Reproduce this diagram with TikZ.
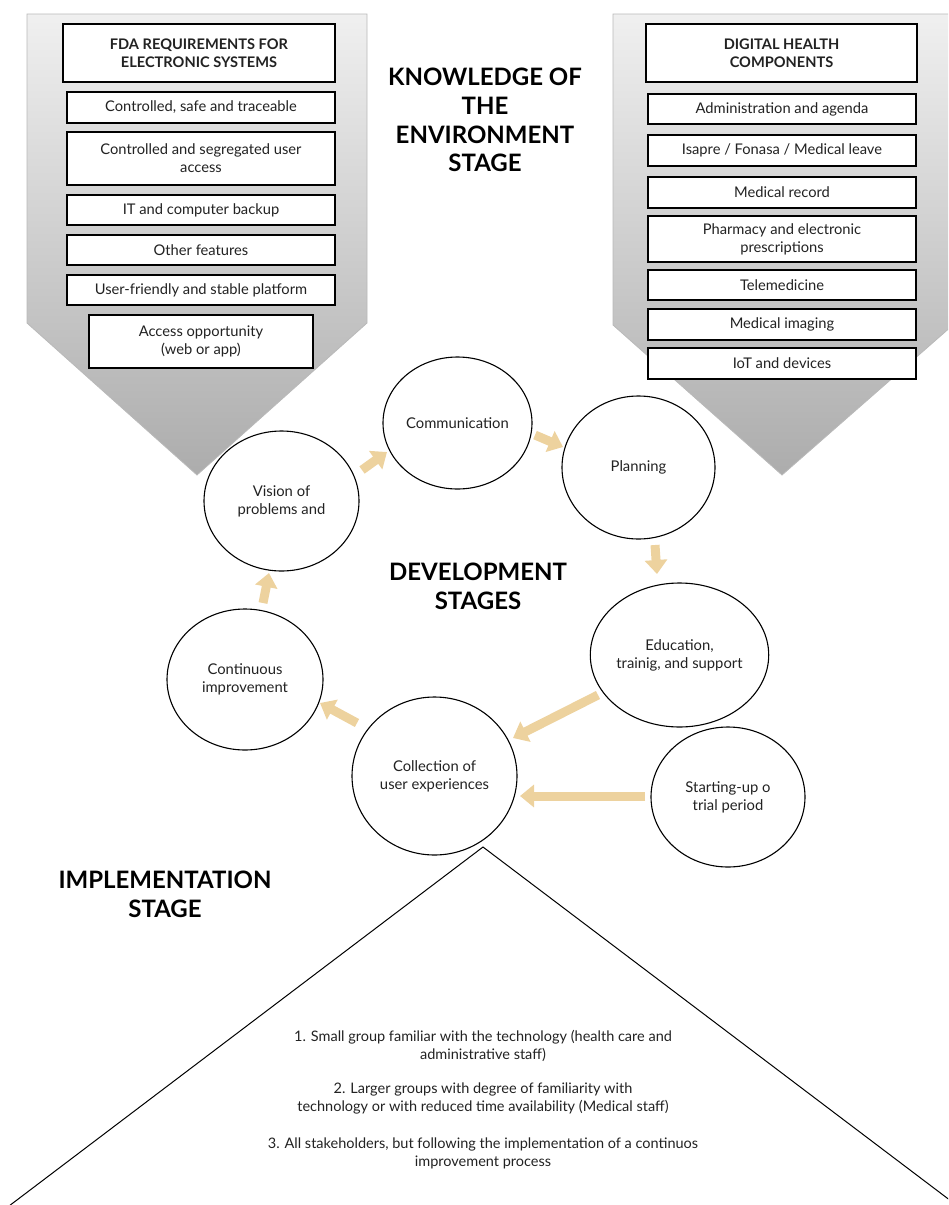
\documentclass[tikz,border=0pt]{standalone}
\usepackage{fontspec}
\setmainfont{Lato}
\usetikzlibrary{arrows.meta,shapes.geometric}
\definecolor{tan}{HTML}{EDD29E}
\definecolor{txt}{HTML}{222222}
\begin{document}
\begin{tikzpicture}[x=1pt,y=-1pt,
  box/.style={draw=black, line width=1.1pt, fill=white, align=center, inner sep=0pt,
    font=\fontsize{14.7}{18}\selectfont, text=txt},
  hbox/.style={box, font=\fontsize{14.6}{18}\selectfont\bfseries},
  lbox/.style={box, minimum width=268pt},
  circ/.style={draw=black, line width=1.1pt, ellipse, inner sep=0pt, align=center,
    font=\fontsize{14.8}{18}\selectfont, text=txt},
  big/.style={align=center, font=\fontsize{24}{28.7}\selectfont\bfseries, text=black},
  small/.style={align=center, font=\fontsize{14.5}{18}\selectfont, text=txt},
  pent/.style={draw=gray!55, line width=0.8pt, top color=gray!12, bottom color=gray!65},
  blockarr/.style={draw=tan, line width=9pt, -{Triangle[width=22pt,length=14pt]}},
  tri/.style={draw=black, line width=1pt}
]
\useasboundingbox (0,0) rectangle (948,1205);
\begin{scope}
\clip (0,0) rectangle (948,1205);
% pentagons
\path[pent] (27,14) -- (367,14) -- (367,323) -- (197,475) -- (27,323) -- cycle;
\path[pent] (613,14) -- (953,14) -- (953,325) -- (782,475) -- (613,325) -- cycle;

% left boxes
\node[hbox, minimum width=272pt, minimum height=58pt] (fda) at (199,53) {FDA REQUIREMENTS FOR\\ELECTRONIC SYSTEMS};
\node[lbox, minimum height=31pt] (l1) at (201,107.5) {Controlled, safe and traceable};
\node[lbox, minimum height=53pt] (l2) at (201,158.5) {Controlled and segregated user\\access};
\node[lbox, minimum height=30pt] (l3) at (201,210) {IT and computer backup};
\node[lbox, minimum height=30pt] (l4) at (201,250) {Other features};
\node[lbox, minimum height=30pt] (l5) at (201,290) {User-friendly and stable platform};
\node[box, minimum width=224pt, minimum height=53pt] (l6) at (201,341.5) {Access opportunity\\(web or app)};

% right boxes
\node[hbox, minimum width=271pt, minimum height=58pt] (dhc) at (781.5,53) {DIGITAL HEALTH\\COMPONENTS};
\node[lbox, minimum height=30pt] (r1) at (782,109) {Administration and agenda};
\node[lbox, minimum height=31pt] (r2) at (782,150.5) {Isapre / Fonasa / Medical leave};
\node[lbox, minimum height=31pt] (r3) at (782,192.5) {Medical record};
\node[lbox, minimum height=46pt] (r4) at (782,239) {Pharmacy and electronic\\prescriptions};
\node[lbox, minimum height=30pt] (r5) at (782,285) {Telemedicine};
\node[lbox, minimum height=31pt] (r6) at (782,324.5) {Medical imaging};
\node[lbox, minimum height=31pt] (r7) at (782,363.5) {IoT and devices};

% titles
\node[big] (know) at (485,120) {KNOWLEDGE OF\\THE\\ENVIRONMENT\\STAGE};
\node[big] (dev) at (478,586.5) {DEVELOPMENT\\STAGES};
\node[big] (impl) at (165,894.5) {IMPLEMENTATION\\STAGE};

% circles
\node[circ, minimum width=149pt, minimum height=132pt] (com) at (457.5,423) {Communication};
\node[circ, minimum width=153pt, minimum height=143pt] (plan) at (638.5,467.5) {Planning};
\node[circ, minimum width=155pt, minimum height=140pt] (vis) at (281.5,501) {Vision of\\problems and};
\node[circ, minimum width=169pt, minimum height=144pt] (edu) at (679.5,655) {Education,\\trainig, and support};
\node[circ, minimum width=156pt, minimum height=141pt] (cont) at (245,679.5) {Continuous\\improvement};
\node[circ, minimum width=165pt, minimum height=158pt] (col) at (434.5,776) {Collection of\\user experiences};
\node[circ, minimum width=154pt, minimum height=140pt] (start) at (728,797) {Starting-up o\\trial period};

% arrow end points
\coordinate (a1s) at (263,603);   \coordinate (a1e) at (269,573);
\coordinate (a2s) at (362,470);   \coordinate (a2e) at (387,452);
\coordinate (a3s) at (535,435);   \coordinate (a3e) at (563,447);
\coordinate (a4s) at (655,545);   \coordinate (a4e) at (657,574);
\coordinate (a5s) at (598,695);   \coordinate (a5e) at (513,738);
\coordinate (a6s) at (645,796);   \coordinate (a6e) at (520,796);
\coordinate (a7s) at (357,723);   \coordinate (a7e) at (320,703);
\draw[blockarr] (a1s) -- (a1e);
\draw[blockarr] (a2s) -- (a2e);
\draw[blockarr] (a3s) -- (a3e);
\draw[blockarr] (a4s) -- (a4e);
\draw[blockarr] (a5s) -- (a5e);
\draw[blockarr] (a6s) -- (a6e);
\draw[blockarr] (a7s) -- (a7e);

% implementation triangle
\coordinate (apex) at (483,847);
\coordinate (tl) at (9,1206);
\coordinate (tr) at (951,1201);
\draw[tri] (tl) -- (apex) -- (tr);

\node[small] (i1) at (483,1046) {1. Small group familiar with the technology (health care and\\administrative staff)};
\node[small] (i2) at (483,1098) {2. Larger groups with degree of familiarity with\\technology or with reduced time availability (Medical staff)};
\node[small] (i3) at (483,1153) {3. All stakeholders, but following the implementation of a continuos\\improvement process};
\end{scope}
\end{tikzpicture}
\end{document}
